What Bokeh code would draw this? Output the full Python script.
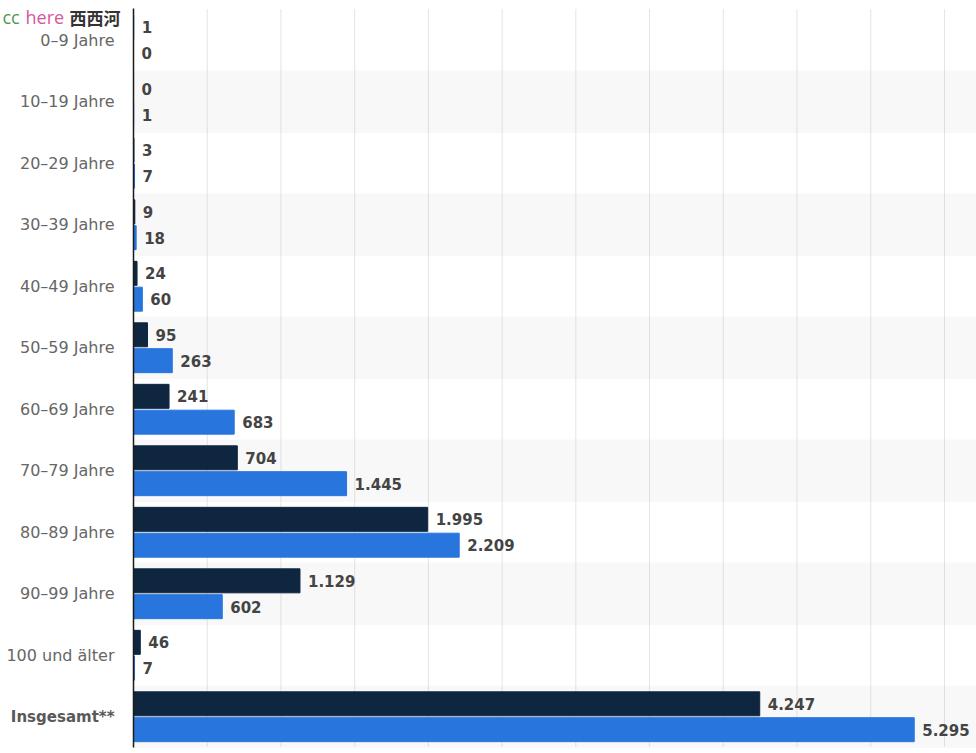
from bokeh.plotting import figure
from bokeh.models import Range1d, ColumnDataSource, Label, LabelSet
from bokeh.core.properties import value
from bokeh.embed import file_html
from bokeh.resources import INLINE

categories = ["0–9 Jahre", "10–19 Jahre", "20–29 Jahre", "30–39 Jahre",
              "40–49 Jahre", "50–59 Jahre", "60–69 Jahre", "70–79 Jahre",
              "80–89 Jahre", "90–99 Jahre", "100 und älter", "Insgesamt**"]
values_dark = [1, 0, 3, 9, 24, 95, 241, 704, 1995, 1129, 46, 4247]
values_blue = [0, 1, 7, 18, 60, 263, 683, 1445, 2209, 602, 7, 5295]
grid_ticks = [500, 1000, 1500, 2000, 2500, 3000, 3500, 4000, 4500, 5000, 5500]

DARK = "#0f2640"
BLUE = "#2876dd"
FONT = "DejaVu Sans"

W, H = 976, 753
PLOT_LEFT = 133          # pixel position of the value axis (0)
PX_PER_UNIT = 0.14745    # horizontal scale
ROW_PX = 61.5            # height of one category row
TOP_PAD, BOTTOM_PAD = 9, 6

n = len(categories)
idx = list(range(n))

x_start = -PLOT_LEFT / PX_PER_UNIT
x_end = (W - PLOT_LEFT) / PX_PER_UNIT
y_top = -0.5 - TOP_PAD / ROW_PX
y_bottom = n - 0.5 + BOTTOM_PAD / ROW_PX


def fmt(v):
    return f"{v:,}".replace(",", ".")


p = figure(width=W, height=H, output_backend="svg", toolbar_location=None,
           x_range=Range1d(x_start, x_end), y_range=Range1d(y_bottom, y_top),
           x_axis_location=None, y_axis_location=None,
           min_border=0)
p.outline_line_color = None
p.background_fill_color = "white"
p.xgrid.visible = False
p.ygrid.visible = False

# alternating row bands
band_idx = [i for i in idx if i % 2 == 1]
p.hbar(y=band_idx, left=0, right=x_end, height=1, color="#f8f8f8")

# dotted vertical grid lines
p.segment(x0=grid_ticks, x1=grid_ticks, y0=-0.5, y1=n - 0.5,
          line_color="#c8c8c8", line_dash="1 1", line_width=1)

off = 0.21
bh = 0.39
src_dark = ColumnDataSource(dict(y=[i - off for i in idx], v=values_dark,
                                 t=[fmt(v) for v in values_dark]))
src_blue = ColumnDataSource(dict(y=[i + off for i in idx], v=values_blue,
                                 t=[fmt(v) for v in values_blue]))

p.hbar(y="y", left=0, right="v", height=bh, color=DARK, source=src_dark)
p.hbar(y="y", left=0, right="v", height=bh, color=BLUE, source=src_blue)

for src in (src_dark, src_blue):
    p.add_layout(LabelSet(x="v", y="y", text="t", source=src, x_offset=8,
                          text_baseline="middle", text_align="left",
                          text_font=value(FONT), text_font_size=value("15px"),
                          text_font_style=value("bold"), text_color=value("#444444")))

# category axis: line and labels
p.segment(x0=[0], x1=[0], y0=[-0.5 - 1 / ROW_PX], y1=[n - 0.5],
          line_color="#1a1a1a", line_width=1.5)
p.text(x=[0] * (n - 1), y=idx[:-1], text=categories[:-1], x_offset=-19,
       text_align="right", text_baseline="middle",
       text_font=value(FONT), text_font_size=value("16px"),
       text_color="#666666")
p.text(x=[0], y=[idx[-1]], text=[categories[-1]], x_offset=-19,
       text_align="right", text_baseline="middle",
       text_font=value(FONT), text_font_size=value("15px"),
       text_font_style="bold", text_color="#595959")

# watermark text in the top-left corner
wm_y = y_top + 16.5 / ROW_PX
p.add_layout(Label(x=2, y=wm_y, x_units="screen", text="cc",
                   text_baseline="alphabetic",
                   text_font="Open Sans", text_font_size="18px", text_color="#4f9a4f"))
p.add_layout(Label(x=25, y=wm_y, x_units="screen", text="here",
                   text_baseline="alphabetic",
                   text_font="Open Sans", text_font_size="18px", text_color="#d9559b"))
p.add_layout(Label(x=69, y=wm_y, x_units="screen", text="西西河",
                   text_baseline="alphabetic",
                   text_font="Noto Sans CJK SC", text_font_size="17px",
                   text_font_style="bold", text_color="#333333"))

open("out.html", "w").write(file_html(p, INLINE))
